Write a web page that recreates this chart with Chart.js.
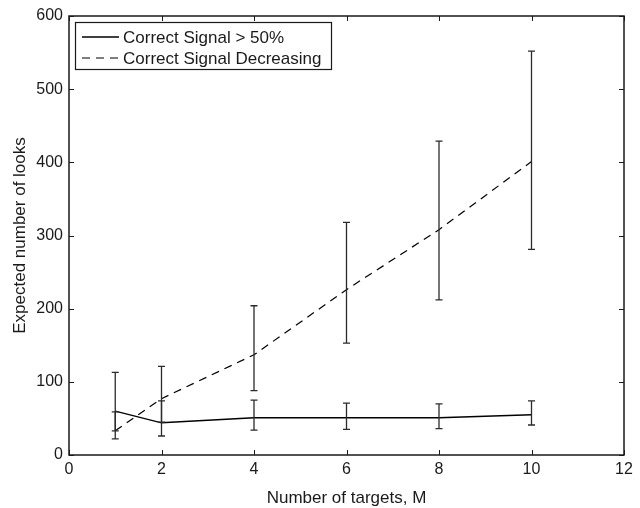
<!DOCTYPE html>
<html>
<head>
<meta charset="utf-8">
<script src="https://cdn.jsdelivr.net/npm/chart.js@4"></script>
<style>
  body { margin: 0; background: #fff; }
  #wrap { width: 640px; height: 508px; }
</style>
</head>
<body>
<div id="wrap"><canvas id="grafico" width="640" height="508"></canvas></div>
<script>
// datos
const targets = [1, 2, 4, 6, 8, 10];
const signalAbove50 = [60, 44, 51, 51, 51, 55];
const signalAbove50Low = [33, 26, 34, 35, 36, 41];
const signalAbove50High = [113, 74, 75, 71, 70, 74];
const signalDecreasing = [33, 77, 137, 226, 308, 401];
const signalDecreasingLow = [22, 45, 88, 153, 212, 281];
const signalDecreasingHigh = [59, 121, 204, 318, 429, 552];
const xTicks = [0, 2, 4, 6, 8, 10, 12];
const yTicks = [0, 100, 200, 300, 400, 500, 600];
const seriesNames = ["Correct Signal > 50%", "Correct Signal Decreasing"];

const FONT = "'Liberation Sans', Arial, Helvetica, sans-serif";
const INK = "#1a1a1a";

const toPoints = (vals) => targets.map((x, i) => ({ x: x, y: vals[i] }));

// barras de error + marco con ticks hacia dentro + leyenda
const extras = {
  id: "extras",
  afterDatasetsDraw(chart) {
    const ctx = chart.ctx;
    const xs = chart.scales.x;
    const ys = chart.scales.y;
    const a = chart.chartArea;

    const bars = [
      [signalAbove50Low, signalAbove50High],
      [signalDecreasingLow, signalDecreasingHigh],
    ];
    ctx.save();
    ctx.strokeStyle = "#2b2b2b";
    ctx.lineWidth = 1.3;
    bars.forEach(([lo, hi]) => {
      targets.forEach((t, i) => {
        const px = xs.getPixelForValue(t);
        const y1 = ys.getPixelForValue(lo[i]);
        const y2 = ys.getPixelForValue(hi[i]);
        ctx.beginPath();
        ctx.moveTo(px, y1); ctx.lineTo(px, y2);
        ctx.moveTo(px - 3.5, y1); ctx.lineTo(px + 3.5, y1);
        ctx.moveTo(px - 3.5, y2); ctx.lineTo(px + 3.5, y2);
        ctx.stroke();
      });
    });

    // marco
    ctx.strokeStyle = INK;
    ctx.lineWidth = 1.5;
    ctx.strokeRect(a.left, a.top, a.right - a.left, a.bottom - a.top);
    ctx.lineWidth = 1;
    ctx.beginPath();
    xTicks.forEach((t) => {
      const px = Math.round(xs.getPixelForValue(t)) + 0.5;
      ctx.moveTo(px, a.bottom); ctx.lineTo(px, a.bottom - 5);
      ctx.moveTo(px, a.top); ctx.lineTo(px, a.top + 5);
    });
    yTicks.forEach((t) => {
      const py = Math.round(ys.getPixelForValue(t)) + 0.5;
      ctx.moveTo(a.left, py); ctx.lineTo(a.left + 5, py);
      ctx.moveTo(a.right, py); ctx.lineTo(a.right - 5, py);
    });
    ctx.stroke();

    // leyenda
    const lx = 75.5, ly = 22.5, lw = 256, lh = 47;
    ctx.fillStyle = "#fff";
    ctx.fillRect(lx, ly, lw, lh);
    ctx.strokeStyle = INK;
    ctx.lineWidth = 1.2;
    ctx.strokeRect(lx, ly, lw, lh);
    const rows = [37, 58];
    chart.data.datasets.forEach((ds, i) => {
      ctx.strokeStyle = ds.borderColor;
      ctx.lineWidth = ds.borderWidth;
      ctx.setLineDash(ds.borderDash || []);
      ctx.beginPath();
      ctx.moveTo(82, rows[i]); ctx.lineTo(119, rows[i]);
      ctx.stroke();
      ctx.setLineDash([]);
      ctx.fillStyle = INK;
      ctx.font = "17px " + FONT;
      ctx.textBaseline = "middle";
      ctx.textAlign = "left";
      ctx.fillText(ds.label, 123, rows[i] + 1);
    });
    ctx.restore();
  },
};

new Chart(document.getElementById("grafico"), {
  type: "line",
  data: {
    datasets: [
      {
        label: seriesNames[0],
        data: toPoints(signalAbove50),
        borderColor: "#000",
        borderWidth: 1.4,
        pointRadius: 0,
        tension: 0,
      },
      {
        label: seriesNames[1],
        data: toPoints(signalDecreasing),
        borderColor: "#000",
        borderWidth: 1.2,
        borderDash: [8, 6],
        pointRadius: 0,
        tension: 0,
      },
    ],
  },
  options: {
    responsive: false,
    animation: false,
    devicePixelRatio: 1,
    layout: { padding: { top: 16, right: 16, left: 0, bottom: 0 } },
    plugins: {
      legend: { display: false },
      tooltip: { enabled: false },
    },
    scales: {
      x: {
        type: "linear",
        min: 0,
        max: 12,
        afterFit: (s) => { s.height = 53; },
        afterBuildTicks: (s) => { s.ticks = xTicks.map((v) => ({ value: v })); },
        grid: { display: false, drawTicks: false },
        border: { display: false },
        ticks: { color: INK, padding: 5, font: { family: FONT, size: 16 } },
        title: {
          display: true,
          text: "Number of targets, M",
          color: INK,
          font: { family: FONT, size: 17, lineHeight: 1 },
          padding: { top: 0, bottom: 1 },
        },
      },
      y: {
        min: 0,
        max: 600,
        afterFit: (s) => { s.width = 69; },
        afterBuildTicks: (s) => { s.ticks = yTicks.map((v) => ({ value: v })); },
        grid: { display: false, drawTicks: false },
        border: { display: false },
        ticks: { color: INK, padding: 6, font: { family: FONT, size: 16 } },
        title: {
          display: true,
          text: "Expected number of looks",
          color: INK,
          font: { family: FONT, size: 17 },
          padding: { top: 10, bottom: 0 },
        },
      },
    },
  },
  plugins: [extras],
});
</script>
</body>
</html>
